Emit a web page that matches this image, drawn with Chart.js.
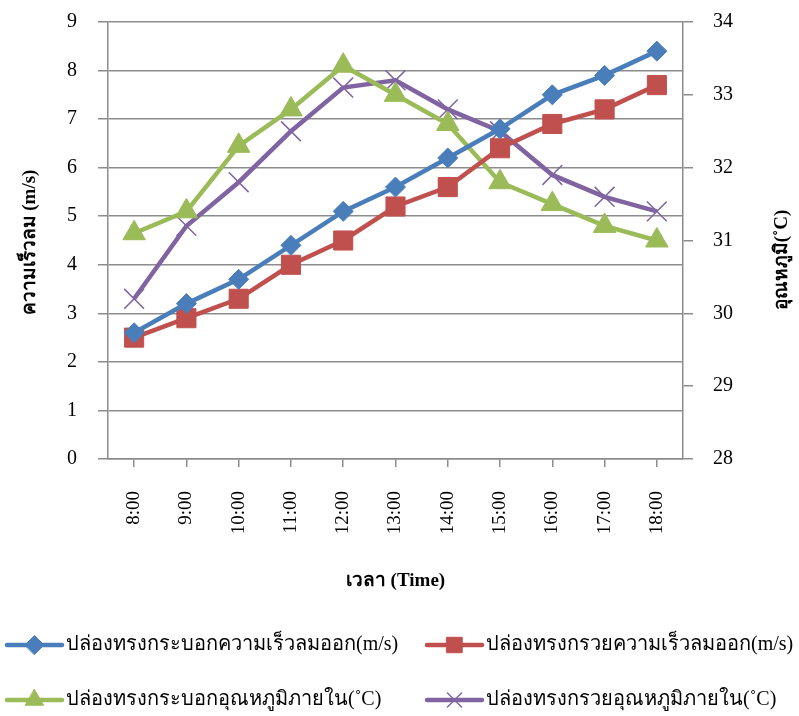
<!DOCTYPE html>
<html>
<head>
<meta charset="utf-8">
<script src="https://cdn.jsdelivr.net/npm/chart.js@4/dist/chart.umd.min.js"></script>
<style>
  html, body { margin: 0; padding: 0; background: #fff; }
  #wrap { width: 799px; height: 716px; }
</style>
</head>
<body>
<div id="wrap"><canvas id="c" width="799" height="716"></canvas></div>
<script>
// Hourly readings, 8:00 to 18:00
const times = ['8:00', '9:00', '10:00', '11:00', '12:00', '13:00', '14:00', '15:00', '16:00', '17:00', '18:00'];

// Exit air speed (m/s), left axis
const cylinderSpeed = [2.6, 3.2, 3.7, 4.4, 5.1, 5.6, 6.2, 6.8, 7.5, 7.9, 8.4];
const coneSpeed     = [2.5, 2.9, 3.3, 4.0, 4.5, 5.2, 5.6, 6.4, 6.9, 7.2, 7.7];

// Inside temperature (°C), right axis
const cylinderTemp = [31.1, 31.4, 32.3, 32.8, 33.4, 33.0, 32.6, 31.8, 31.5, 31.2, 31.0];
const coneTemp     = [30.2, 31.2, 31.8, 32.5, 33.1, 33.2, 32.8, 32.5, 31.9, 31.6, 31.4];

const seriesNames = [
  'ปล่องทรงกระบอกความเร็วลมออก(m/s)',
  'ปล่องทรงกรวยความเร็วลมออก(m/s)',
  'ปล่องทรงกระบอกอุณหภูมิภายใน(˚C)',
  'ปล่องทรงกรวยอุณหภูมิภายใน(˚C)'
];

const leftTitle = 'ความเร็วลม (m/s)';
const rightTitle = 'อุณหภูมิ(˚C)';
const xTitle = 'เวลา (Time)';

const SERIF = '"Liberation Serif", "Times New Roman", "DejaVu Serif", serif';
const GRID = '#8c8c8c';

const BLUE = '#4a7ebb', RED = '#c0504d', GREEN = '#9bbb59', PURPLE = '#8064a2';

function series(label, data, color, axis, style, radius, markerBorder) {
  return {
    label, data, yAxisID: axis,
    borderColor: color, backgroundColor: color,
    borderWidth: 4.5, tension: 0,
    pointStyle: style, pointRadius: radius, pointHoverRadius: radius,
    pointBackgroundColor: color, pointBorderColor: color,
    pointBorderWidth: markerBorder
  };
}

const datasets = [
  series(seriesNames[0], cylinderSpeed, BLUE, 'ySpeed', 'rectRot', 10, 1),
  series(seriesNames[1], coneSpeed, RED, 'ySpeed', 'rect', 13.5, 1),
  series(seriesNames[2], cylinderTemp, GREEN, 'yTemp', 'triangle', 13, 1),
  series(seriesNames[3], coneTemp, PURPLE, 'yTemp', 'crossRot', 14, 1.5)
];

// Axis titles and a two-column legend with line + marker swatches
const decorations = {
  id: 'decorations',
  afterDraw(chart) {
    const ctx = chart.ctx;
    const area = chart.chartArea;
    ctx.save();
    ctx.fillStyle = '#000';
    ctx.textAlign = 'center';
    ctx.textBaseline = 'middle';
    ctx.font = 'bold 19px ' + SERIF;

    ctx.save();
    ctx.translate(30, (area.top + area.bottom) / 2 + 2);
    ctx.rotate(-Math.PI / 2);
    ctx.fillText(leftTitle, 0, 0);
    ctx.restore();

    ctx.save();
    ctx.translate(782, 260);
    ctx.rotate(-Math.PI / 2);
    ctx.fillText(rightTitle, 0, 0);
    ctx.restore();

    ctx.fillText(xTitle, (area.left + area.right) / 2, 581);

    // legend
    const slots = [[7, 645], [427, 645], [7, 700], [427, 700]];
    const swatchScale = [1, 0.85, 0.85, 0.75];
    ctx.font = '20px ' + SERIF;
    ctx.textAlign = 'left';
    chart.data.datasets.forEach((ds, i) => {
      const [x0, y] = slots[i];
      const x1 = x0 + 55;
      ctx.strokeStyle = ds.borderColor;
      ctx.lineWidth = 4.5;
      ctx.lineCap = 'round';
      ctx.beginPath();
      ctx.moveTo(x0, y);
      ctx.lineTo(x1, y);
      ctx.stroke();
      ctx.fillStyle = ds.pointBackgroundColor;
      ctx.strokeStyle = ds.pointBorderColor;
      ctx.lineWidth = ds.pointBorderWidth;
      Chart.helpers.drawPoint(ctx, {
        pointStyle: ds.pointStyle,
        radius: ds.pointRadius * swatchScale[i] * 0.95,
        borderWidth: ds.pointBorderWidth,
        rotation: 0
      }, (x0 + x1) / 2, y);
      ctx.fillStyle = '#000';
      ctx.fillText(ds.label, x1 + 4, y);
    });
    ctx.restore();
  }
};

// Keep the plot box fixed: vertical axes reserve no extra room above/below
function fixVertical(width) {
  return function (s) {
    s.width = width;
    s.paddingTop = 11;
    s.paddingBottom = 0;
  };
}

new Chart(document.getElementById('c'), {
  type: 'line',
  data: { labels: times, datasets },
  options: {
    responsive: false,
    animation: false,
    layout: { padding: { top: 22, left: 0, right: 0, bottom: 0 } },
    plugins: { legend: { display: false }, tooltip: { enabled: false } },
    scales: {
      x: {
        offset: true,
        grid: { offset: false, drawOnChartArea: false, color: GRID, lineWidth: 1.5, tickLength: 8 },
        border: { color: GRID, width: 1.5 },
        ticks: { maxRotation: 90, minRotation: 90, padding: 24, color: '#000', font: { family: SERIF, size: 19 } },
        afterFit(s) { s.height = 257; }
      },
      ySpeed: {
        position: 'left', min: 0, max: 9,
        grid: { color: GRID, lineWidth: 1.5, tickLength: 10 },
        border: { color: GRID, width: 1.5 },
        ticks: { stepSize: 1, padding: 21, color: '#000', font: { family: SERIF, size: 20 } },
        afterFit: fixVertical(108)
      },
      yTemp: {
        position: 'right', min: 28, max: 34,
        grid: { drawOnChartArea: false, color: GRID, lineWidth: 1.5, tickLength: 10 },
        border: { color: GRID, width: 1.5 },
        ticks: { stepSize: 1, padding: 20, color: '#000', font: { family: SERIF, size: 20 } },
        afterFit: fixVertical(116)
      }
    }
  },
  plugins: [decorations]
});
</script>
</body>
</html>
